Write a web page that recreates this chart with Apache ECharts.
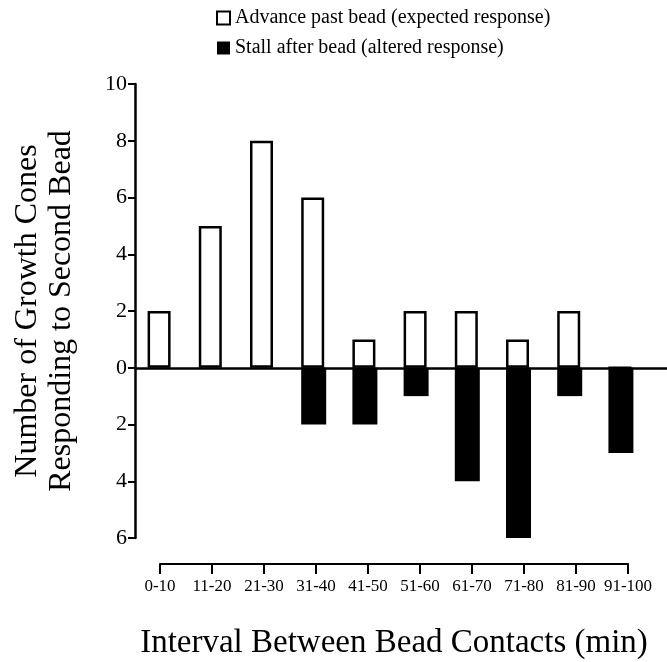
<!DOCTYPE html>
<html>
<head>
<meta charset="utf-8">
<script src="https://cdn.jsdelivr.net/npm/echarts@6/dist/echarts.min.js"></script>
<style>
  html, body { margin: 0; padding: 0; background: #fff; }
  #chart { width: 667px; height: 662px; }
</style>
</head>
<body>
<div id="chart"></div>
<script>
// Interval categories (minutes between first and second bead contact)
const categories = ['0-10', '11-20', '21-30', '31-40', '41-50', '51-60', '61-70', '71-80', '81-90', '91-100'];
// Growth cones that advanced past the second bead
const advanceCounts = [2, 5, 8, 6, 1, 2, 2, 1, 2, 0];
// Growth cones that stalled after the second bead (drawn below zero)
const stallCounts = [0, 0, 0, 2, 2, 1, 4, 6, 1, 3];
// Y-axis tick range
const yMin = -6, yMax = 10, yStep = 2;

const serif = '"Liberation Serif", "DejaVu Serif", serif';

const chart = echarts.init(document.getElementById('chart'), null, { renderer: 'canvas' });

// Bars sit at the category index on a numeric axis so the zero line
// can run past the last interval to the right edge of the figure.
const advanceData = categories.map((c, i) => [i, advanceCounts[i]]);
const stallData = categories.map((c, i) => [i, -stallCounts[i]]);

chart.setOption({
  animation: false,
  backgroundColor: '#ffffff',
  legend: {
    orient: 'vertical',
    left: 216,
    top: 8,
    padding: 0,
    itemWidth: 13,
    itemHeight: 13,
    itemGap: 10,
    textStyle: { fontFamily: serif, fontSize: 20, color: '#000' },
    data: [
      { name: 'Advance past bead (expected response)', icon: 'rect', itemStyle: { color: '#fff', borderColor: '#000', borderWidth: 2 } },
      { name: 'Stall after bead (altered response)', icon: 'rect', itemStyle: { color: '#000', borderColor: '#000', borderWidth: 0 } }
    ]
  },
  grid: [
    { left: 135, top: 84, height: 454, right: 0 },
    { left: 160, top: 563, height: 1, width: 468 }
  ],
  xAxis: [
    {
      gridIndex: 0,
      type: 'value',
      min: -0.49,
      max: 9.9,
      axisLine: { onZero: true, lineStyle: { color: '#000', width: 2.5 } },
      axisTick: { show: false },
      axisLabel: { show: false },
      splitLine: { show: false }
    },
    {
      gridIndex: 1,
      type: 'category',
      data: categories,
      boundaryGap: false,
      position: 'bottom',
      axisLine: { lineStyle: { color: '#000', width: 2 } },
      axisTick: { show: true, length: 10, alignWithLabel: true, lineStyle: { color: '#000', width: 2 } },
      axisLabel: { fontFamily: serif, fontSize: 17, color: '#000', margin: 14, interval: 0 },
      name: 'Interval Between Bead Contacts (min)',
      nameLocation: 'middle',
      nameGap: 63,
      nameTextStyle: { fontFamily: serif, fontSize: 33, color: '#000' }
    }
  ],
  yAxis: [
    {
      gridIndex: 0,
      type: 'value',
      min: yMin,
      max: yMax,
      interval: yStep,
      axisLine: { show: true, onZero: false, lineStyle: { color: '#000', width: 2.5 } },
      axisTick: { show: true, length: 7, lineStyle: { color: '#000', width: 2 } },
      axisLabel: {
        fontFamily: serif, fontSize: 22, color: '#000', margin: 8,
        formatter: v => String(Math.abs(v))
      },
      splitLine: { show: false },
      name: 'Number of Growth Cones\nResponding to Second Bead',
      nameLocation: 'middle',
      nameGap: 56,
      nameTextStyle: { fontFamily: serif, fontSize: 32, color: '#000', lineHeight: 34 }
    },
    {
      gridIndex: 1,
      type: 'value',
      show: false
    }
  ],
  series: [
    {
      name: 'Advance past bead (expected response)',
      type: 'bar',
      xAxisIndex: 0,
      yAxisIndex: 0,
      barWidth: 23,
      barGap: '-100%',
      data: advanceData,
      itemStyle: { color: '#fff', borderColor: '#000', borderWidth: 2.5 }
    },
    {
      name: 'Stall after bead (altered response)',
      type: 'bar',
      xAxisIndex: 0,
      yAxisIndex: 0,
      barWidth: 25,
      barGap: '-100%',
      data: stallData,
      itemStyle: { color: '#000', borderWidth: 0 }
    }
  ]
});
</script>
</body>
</html>
